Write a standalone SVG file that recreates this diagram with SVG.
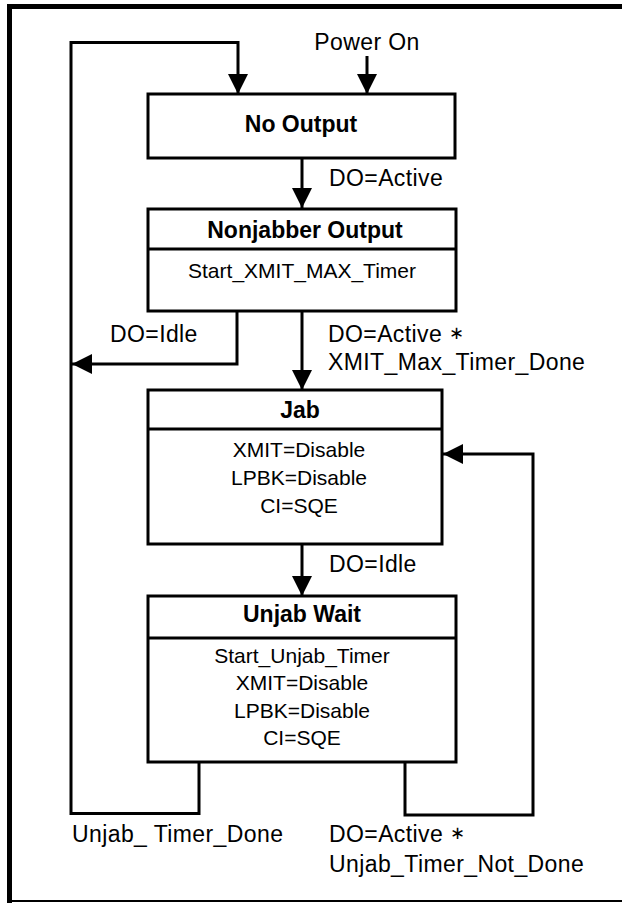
<svg xmlns="http://www.w3.org/2000/svg" width="622" height="905" viewBox="0 0 622 905">
<defs>
<marker id="ah" markerUnits="userSpaceOnUse" markerWidth="20" markerHeight="20" viewBox="0 0 18 18" refX="18" refY="9" orient="auto">
<path d="M0,0 L18,9 L0,18 Z" fill="#000"/>
</marker>
<style>
.box{fill:#fff;stroke:#000;stroke-width:3}
.div{stroke:#000;stroke-width:3}
.c{fill:none;stroke:#000;stroke-width:3}
.hd{font-family:"Liberation Sans",Arial,sans-serif;font-weight:bold;font-size:23px;text-anchor:middle;fill:#000}
.bd{font-family:"Liberation Sans",Arial,sans-serif;font-size:21px;text-anchor:middle;fill:#000}
.lb{font-family:"Liberation Sans",Arial,sans-serif;font-size:23px;letter-spacing:0.4px;fill:#000}
.ast{font-size:18px}
</style>
</defs>
<rect width="622" height="905" fill="#fff"/>
<g id="frame">
<path d="M9.5,4 V903" stroke="#000" stroke-width="5" fill="none"/>
<path d="M7,6.5 H622" stroke="#000" stroke-width="5" fill="none"/>
<path d="M7,901 H622" stroke="#000" stroke-width="2" fill="none"/>
</g>
<g id="connectors">
<path class="c" d="M199,762 V813.5 H71 V42.5 H238 V94" marker-end="url(#ah)"/>
<path class="c" d="M367,56 V94" marker-end="url(#ah)"/>
<path class="c" d="M302,158 V208" marker-end="url(#ah)"/>
<path class="c" d="M237,311 V364 H72" marker-end="url(#ah)"/>
<path class="c" d="M302,311 V390" marker-end="url(#ah)"/>
<path class="c" d="M302,544 V596" marker-end="url(#ah)"/>
<path class="c" d="M405,762 V815 H533 V454 H443" marker-end="url(#ah)"/>
<text class="lb" x="367" y="50" text-anchor="middle">Power On</text>
<text class="lb" x="329" y="186">DO=Active</text>
<text class="lb" x="110" y="342">DO=Idle</text>
<text class="lb" x="328" y="342">DO=Active <tspan class="ast" dy="-3">∗</tspan></text>
<text class="lb" x="328" y="370">XMIT_Max_Timer_Done</text>
<text class="lb" x="329" y="572">DO=Idle</text>
<text class="lb" x="72" y="842">Unjab_ Timer_Done</text>
<text class="lb" x="329" y="842">DO=Active <tspan class="ast" dy="-3">∗</tspan></text>
<text class="lb" x="329" y="872">Unjab_Timer_Not_Done</text>
</g>
<g id="no-output">
<rect class="box" x="148" y="94" width="307" height="64"/>
<text class="hd" x="301" y="132">No Output</text>
</g>
<g id="nonjabber-output">
<rect class="box" x="148" y="209" width="308" height="102"/>
<line class="div" x1="148" y1="249" x2="456" y2="249"/>
<text class="hd" x="305" y="238">Nonjabber Output</text>
<text class="bd" x="302" y="278">Start_XMIT_MAX_Timer</text>
</g>
<g id="jab">
<rect class="box" x="148" y="390" width="294" height="154"/>
<line class="div" x1="148" y1="429" x2="442" y2="429"/>
<text class="hd" x="300" y="418">Jab</text>
<text class="bd" x="299" y="457">XMIT=Disable</text>
<text class="bd" x="299" y="485">LPBK=Disable</text>
<text class="bd" x="299" y="513">CI=SQE</text>
</g>
<g id="unjab-wait">
<rect class="box" x="148" y="596" width="308" height="166"/>
<line class="div" x1="148" y1="638" x2="456" y2="638"/>
<text class="hd" x="302" y="622">Unjab Wait</text>
<text class="bd" x="302" y="663">Start_Unjab_Timer</text>
<text class="bd" x="302" y="690">XMIT=Disable</text>
<text class="bd" x="302" y="718">LPBK=Disable</text>
<text class="bd" x="302" y="745">CI=SQE</text>
</g>
</svg>
